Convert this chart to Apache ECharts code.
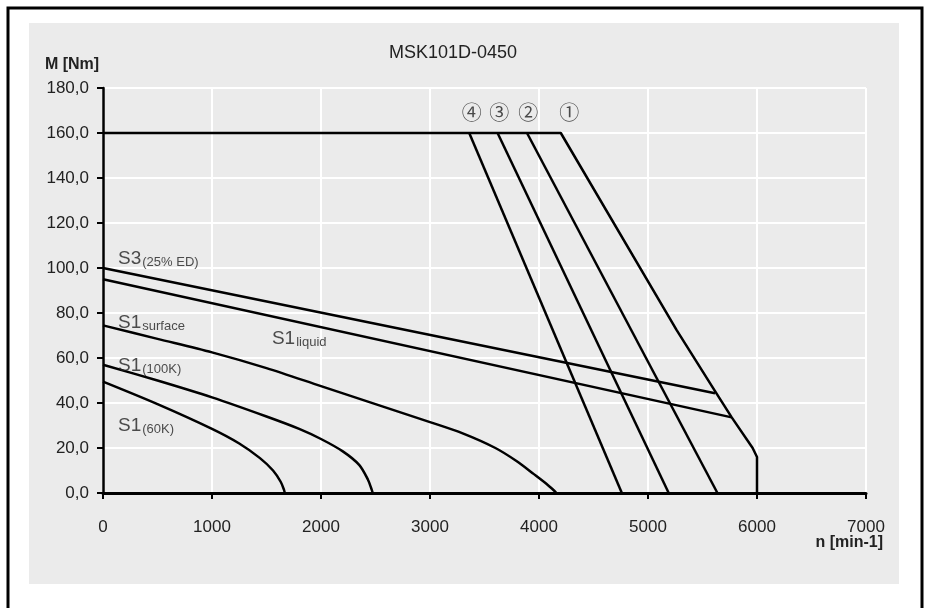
<!DOCTYPE html>
<html>
<head>
<meta charset="utf-8">
<script src="https://cdn.jsdelivr.net/npm/echarts@6/dist/echarts.min.js"></script>
<style>html,body{margin:0;padding:0;background:#fff}#c{width:929px;height:608px}</style>
</head>
<body>
<div id="c"></div>
<script>
// ---- data ----
const xTicks = [0, 1000, 2000, 3000, 4000, 5000, 6000, 7000];
const yTicks = [0, 20, 40, 60, 80, 100, 120, 140, 160, 180];

const nS3 = [0, 5615];
const mS3 = [100, 44.3];

const nLiquid = [0, 5768];
const mLiquid = [95, 33.6];

const nSurface = [0, 500, 1000, 1500, 2000, 2500, 3000, 3300, 3600, 3800, 3950, 4070, 4140, 4160];
const mSurface = [74.5, 68.5, 62.5, 55.5, 47.5, 39.5, 31.5, 26.5, 20, 14, 8.5, 4, 1, 0];

const n100K = [0, 500, 1000, 1500, 1800, 2000, 2200, 2350, 2430, 2465, 2475];
const m100K = [57, 50, 42.5, 34, 28.5, 24, 18.5, 12.5, 6, 1.5, 0];

const n60K = [0, 500, 1000, 1250, 1440, 1560, 1630, 1660, 1668];
const m60K = [49.5, 39.5, 28.5, 22, 15.5, 10, 5, 1.5, 0];

const nCurve1 = [0, 4200, 5263, 5615, 5768, 5960, 6000, 6000];
const mCurve1 = [160, 160, 72.4, 45.3, 33.6, 20, 16, 0];
const nCurve2 = [3890, 5637];
const mCurve2 = [160, 0];
const nCurve3 = [3620, 5190];
const mCurve3 = [160, 0];
const nCurve4 = [3360, 4760];
const mCurve4 = [160, 0];

const curveLabels = ['①', '②', '③', '④'];
const curveLabelN = [4278, 3902, 3636, 3383];
const curveLabelM = [169, 169, 169, 169];

const seriesLabels = ['{m|S3}{s|(25% ED)}', '{m|S1}{s|liquid}', '{m|S1}{s|surface}', '{m|S1}{s|(100K)}', '{m|S1}{s|(60K)}'];
const seriesLabelN = [138, 1550, 138, 138, 138];
const seriesLabelM = [104, 68.5, 75.5, 56.5, 29.8];

// ---- chart ----
const FONT = '"Liberation Sans", Arial, sans-serif';
const TXT = '#222';
const pairs = (xs, ys) => xs.map((x, i) => [x, ys[i]]);
const lineSeries = (xs, ys) => ({
  type: 'line', data: pairs(xs, ys), showSymbol: false, smooth: false,
  lineStyle: { color: '#000', width: 2.5 }, silent: true, z: 3
});
const smoothSeries = (xs, ys) => Object.assign(lineSeries(xs, ys), { smooth: 0.3 });

const chart = echarts.init(document.getElementById('c'), null, { renderer: 'canvas' });
chart.setOption({
  backgroundColor: '#fff',
  animation: false,
  graphic: [
    { type: 'rect', z: -20, shape: { x: 8, y: 8, width: 914, height: 640 },
      style: { fill: '#fff', stroke: '#000', lineWidth: 3 } },
    { type: 'rect', z: -19, shape: { x: 29, y: 23, width: 870, height: 561 },
      style: { fill: '#ebebeb' } },
    { type: 'text', x: 453, y: 53, style: { text: 'MSK101D-0450', font: '18px ' + FONT,
      fill: TXT, textAlign: 'center', textVerticalAlign: 'middle' } },
    { type: 'text', x: 72, y: 65, style: { text: 'M [Nm]', font: 'bold 16px ' + FONT,
      fill: TXT, textAlign: 'center', textVerticalAlign: 'middle' } },
    { type: 'text', x: 883, y: 543, style: { text: 'n [min-1]', font: 'bold 16px ' + FONT,
      fill: TXT, textAlign: 'right', textVerticalAlign: 'middle' } }
  ],
  grid: { left: 103, right: 63, top: 88, bottom: 115, containLabel: false },
  xAxis: {
    type: 'value', min: 0, max: 7000, interval: 1000,
    axisLine: { onZero: false, lineStyle: { color: '#000', width: 3 } },
    axisTick: { show: true, length: 6, lineStyle: { color: '#000', width: 2 } },
    axisLabel: { margin: 26, fontSize: 17, fontFamily: FONT, color: TXT,
      formatter: v => xTicks.includes(v) ? String(v) : '' },
    splitLine: { show: true, lineStyle: { color: '#fff', width: 2 } }
  },
  yAxis: {
    type: 'value', min: 0, max: 180, interval: 20,
    axisLine: { show: true, onZero: false, lineStyle: { color: '#000', width: 2.5 } },
    axisTick: { show: true, length: 6, lineStyle: { color: '#000', width: 2 } },
    axisLabel: { margin: 14, fontSize: 17, fontFamily: FONT, color: TXT,
      formatter: v => yTicks.includes(v) ? v.toFixed(1).replace('.', ',') : '' },
    splitLine: { show: true, lineStyle: { color: '#fff', width: 2 } }
  },
  series: [
    lineSeries(nS3, mS3),
    lineSeries(nLiquid, mLiquid),
    smoothSeries(nSurface, mSurface),
    smoothSeries(n100K, m100K),
    smoothSeries(n60K, m60K),
    lineSeries(nCurve1, mCurve1),
    lineSeries(nCurve2, mCurve2),
    lineSeries(nCurve3, mCurve3),
    lineSeries(nCurve4, mCurve4),
    {
      type: 'scatter', symbolSize: 0, silent: true, z: 5,
      data: curveLabelN.map((n, i) => [n, curveLabelM[i], curveLabels[i]]),
      label: { show: true, position: 'inside', formatter: p => p.data[2],
        fontSize: 20, fontFamily: '"Noto Sans CJK JP", "Noto Sans CJK SC", sans-serif', color: TXT }
    },
    {
      type: 'scatter', symbolSize: 0, silent: true, z: 5,
      data: seriesLabelN.map((n, i) => [n, seriesLabelM[i], seriesLabels[i]]),
      label: { show: true, position: 'right', distance: 0, formatter: p => p.data[2],
        rich: {
          m: { fontSize: 19, fontFamily: FONT, color: TXT, lineHeight: 20, verticalAlign: 'top' },
          s: { fontSize: 13, fontFamily: FONT, color: TXT, lineHeight: 14, verticalAlign: 'bottom', padding: [9, 0, 0, 1] }
        } }
    }
  ]
});
</script>
</body>
</html>
